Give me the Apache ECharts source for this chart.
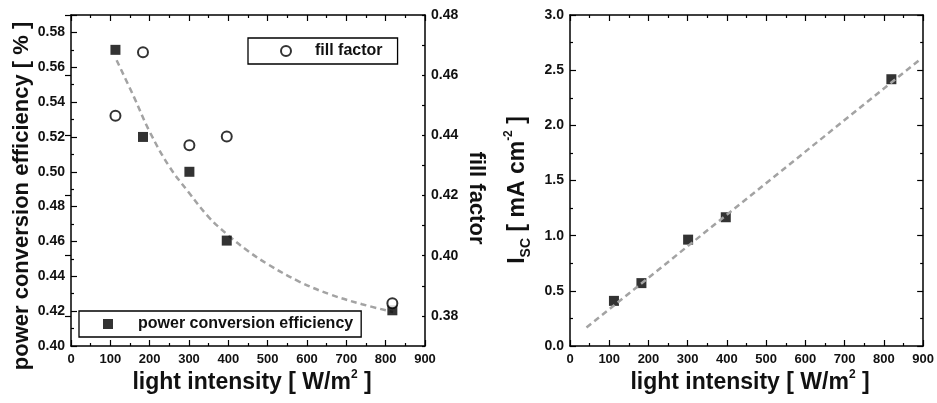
<!DOCTYPE html>
<html>
<head>
<meta charset="utf-8">
<script src="https://cdn.jsdelivr.net/npm/echarts@6/dist/echarts.min.js"></script>
<style>
  html, body { margin: 0; padding: 0; background: #fff; }
  #main { width: 937px; height: 403px; }
</style>
</head>
<body>
<div id="main"></div>
<script>
// light intensity values (W/m2)
var intensity = [113, 183, 301, 396, 817];
var pce = [0.570, 0.520, 0.500, 0.4605, 0.4205];
var fillFactor = [0.4465, 0.4676, 0.4367, 0.4396, 0.3842];
// dashed fit curve
var pceFitX = [116, 160, 200, 250, 300, 350, 400, 450, 500, 580, 660, 740, 819];
var pceFitY = [0.564, 0.543, 0.523, 0.503, 0.488, 0.474, 0.4635, 0.4545, 0.447, 0.437, 0.4295, 0.424, 0.4195];

var iscX = [112, 182, 301, 397, 819];
var isc = [0.409, 0.570, 0.964, 1.167, 2.418];
var iscFitX = [42, 892];
var iscFitY = [0.167, 2.597];

var ffTicks = [0.38, 0.40, 0.42, 0.44, 0.46, 0.48];

var font = "'Liberation Sans', Arial, sans-serif";
var ink = '#000';

function pairs(xs, ys) {
    return xs.map(function (x, i) { return [x, ys[i]]; });
}

function xAxisFor(grid, top) {
    return {
        type: 'value', gridIndex: grid, min: 0, max: 900, interval: 100,
        position: top ? 'top' : 'bottom',
        axisLine: { show: true, onZero: false, lineStyle: { color: ink, width: 1.5 } },
        axisTick: { show: true, inside: true, length: 6, lineStyle: { color: ink, width: 1.2 } },
        minorTick: { show: true, splitNumber: 2, length: 3, lineStyle: { color: ink, width: 1.2 } },
        axisLabel: { show: !top, color: '#111', fontFamily: font, fontWeight: 'bold', fontSize: 13, margin: 7 },
        splitLine: { show: false }
    };
}

var tickStyle = { color: ink, width: 1.2 };
var labelStyle = { color: '#111', fontFamily: font, fontWeight: 'bold', fontSize: 14 };

var chart = echarts.init(document.getElementById('main'));
var option = {
    animation: false,
    backgroundColor: '#fff',
    grid: [
        { left: 71, top: 15, width: 354, height: 331 },
        { left: 570, top: 15, width: 354, height: 331 }
    ],
    xAxis: [xAxisFor(0, false), xAxisFor(0, true), xAxisFor(1, false), xAxisFor(1, true)],
    yAxis: [
        {
            type: 'value', gridIndex: 0, min: 0.40, max: 0.59, interval: 0.02, position: 'left',
            axisLine: { show: true, onZero: false, lineStyle: { color: ink, width: 1.5 } },
            axisTick: { show: true, inside: true, length: 6, lineStyle: tickStyle },
            minorTick: { show: true, splitNumber: 2, length: 3, lineStyle: tickStyle },
            axisLabel: Object.assign({ margin: 6, formatter: function (v) {
                return Math.round(v * 100) % 2 === 0 ? v.toFixed(2) : '';
            } }, labelStyle),
            splitLine: { show: false }
        },
        {
            type: 'value', gridIndex: 0, min: 0.37, max: 0.48, interval: 0.01, position: 'right',
            axisLine: { show: true, onZero: false, lineStyle: { color: ink, width: 1.5 } },
            axisTick: { show: true, inside: true, length: 3, lineStyle: tickStyle },
            axisLabel: Object.assign({ margin: 6, formatter: function (v) {
                return Math.round(v * 100) % 2 === 0 ? v.toFixed(2) : '';
            } }, labelStyle),
            splitLine: { show: false }
        },
        {
            type: 'value', gridIndex: 0, min: 0.37, max: 0.48, position: 'right',
            axisLine: { show: false },
            axisTick: { show: true, inside: true, length: 6, customValues: ffTicks, lineStyle: tickStyle },
            axisLabel: { show: false },
            splitLine: { show: false }
        },
        {
            type: 'value', gridIndex: 1, min: 0, max: 3, interval: 0.5, position: 'left',
            axisLine: { show: true, onZero: false, lineStyle: { color: ink, width: 1.5 } },
            axisTick: { show: true, inside: true, length: 6, lineStyle: tickStyle },
            minorTick: { show: true, splitNumber: 2, length: 3, lineStyle: tickStyle },
            axisLabel: Object.assign({ margin: 6, formatter: function (v) { return v.toFixed(1); } }, labelStyle),
            splitLine: { show: false }
        },
        {
            type: 'value', gridIndex: 1, min: 0, max: 3, interval: 0.5, position: 'right',
            axisLine: { show: true, onZero: false, lineStyle: { color: ink, width: 1.5 } },
            axisTick: { show: true, inside: true, length: 6, lineStyle: tickStyle },
            minorTick: { show: true, splitNumber: 2, length: 3, lineStyle: tickStyle },
            axisLabel: { show: false },
            splitLine: { show: false }
        }
    ],
    legend: [
        {
            data: ['fill factor'], left: 248, top: 38, orient: 'horizontal',
            backgroundColor: '#fff', borderColor: ink, borderWidth: 1.3, borderRadius: 0,
            padding: [5, 15, 5, 32], itemWidth: 10, itemHeight: 10,
            textStyle: { color: '#111', fontFamily: font, fontWeight: 'bold', fontSize: 16, padding: [0, 0, 0, 19] }
        },
        {
            data: ['power conversion efficiency'], left: 79, top: 311, orient: 'horizontal',
            backgroundColor: '#fff', borderColor: ink, borderWidth: 1.3, borderRadius: 0,
            padding: [5, 8, 5, 24], itemWidth: 10, itemHeight: 10,
            textStyle: { color: '#111', fontFamily: font, fontWeight: 'bold', fontSize: 16, padding: [0, 0, 0, 20] }
        }
    ],
    series: [
        {
            name: 'pce fit', type: 'line', xAxisIndex: 0, yAxisIndex: 0,
            data: pairs(pceFitX, pceFitY), smooth: 0.4, showSymbol: false, z: 1,
            lineStyle: { color: '#a3a3a3', width: 2.5, type: [6, 4] }
        },
        {
            name: 'power conversion efficiency', type: 'scatter', xAxisIndex: 0, yAxisIndex: 0,
            data: pairs(intensity, pce), symbol: 'rect', symbolSize: 10, z: 3,
            itemStyle: { color: ink }
        },
        {
            name: 'fill factor', type: 'scatter', xAxisIndex: 0, yAxisIndex: 1,
            data: pairs(intensity, fillFactor), symbol: 'emptyCircle', symbolSize: 10, z: 3,
            itemStyle: { color: ink, borderColor: ink, borderWidth: 1.4 }
        },
        {
            name: 'Isc', type: 'scatter', xAxisIndex: 2, yAxisIndex: 3,
            data: pairs(iscX, isc), symbol: 'rect', symbolSize: 10, z: 2,
            itemStyle: { color: ink }
        },
        {
            name: 'Isc fit', type: 'line', xAxisIndex: 2, yAxisIndex: 3,
            data: pairs(iscFitX, iscFitY), showSymbol: false, z: 3,
            lineStyle: { color: '#a3a3a3', width: 2.5, type: [6, 4] }
        }
    ],
    graphic: [
        {
            type: 'text', x: 22, y: 196, rotation: Math.PI / 2,
            style: { text: 'power conversion efficiency [ % ]', fill: '#111', font: 'bold 22px ' + font,
                     align: 'center', verticalAlign: 'middle' }
        },
        {
            type: 'text', x: 476, y: 198, rotation: -Math.PI / 2,
            style: { text: 'fill factor', fill: '#111', font: 'bold 22px ' + font,
                     align: 'center', verticalAlign: 'middle' }
        },
        {
            type: 'text', x: 252, y: 383,
            style: {
                text: '{t|light intensity [ W/m}{s|2}{t| ]}', fill: '#111', align: 'center', verticalAlign: 'middle',
                rich: {
                    t: { fontFamily: font, fontWeight: 'bold', fontSize: 23, lineHeight: 28, fill: '#111' },
                    s: { fontFamily: font, fontWeight: 'bold', fontSize: 12, lineHeight: 28, verticalAlign: 'top', fill: '#111' }
                }
            }
        },
        {
            type: 'text', x: 750, y: 383,
            style: {
                text: '{t|light intensity [ W/m}{s|2}{t| ]}', fill: '#111', align: 'center', verticalAlign: 'middle',
                rich: {
                    t: { fontFamily: font, fontWeight: 'bold', fontSize: 23, lineHeight: 28, fill: '#111' },
                    s: { fontFamily: font, fontWeight: 'bold', fontSize: 12, lineHeight: 28, verticalAlign: 'top', fill: '#111' }
                }
            }
        },
        {
            type: 'text', x: 518, y: 190, rotation: Math.PI / 2,
            style: {
                text: '{t|I}{b|SC}{t| [ mA cm}{s|-2}{t| ]}', fill: '#111', align: 'center', verticalAlign: 'middle',
                rich: {
                    t: { fontFamily: font, fontWeight: 'bold', fontSize: 23, lineHeight: 30, fill: '#111' },
                    b: { fontFamily: font, fontWeight: 'bold', fontSize: 14, lineHeight: 30, verticalAlign: 'bottom', fill: '#111' },
                    s: { fontFamily: font, fontWeight: 'bold', fontSize: 12, lineHeight: 30, verticalAlign: 'top', fill: '#111' }
                }
            }
        }
    ]
};
chart.setOption(option);
</script>
</body>
</html>
